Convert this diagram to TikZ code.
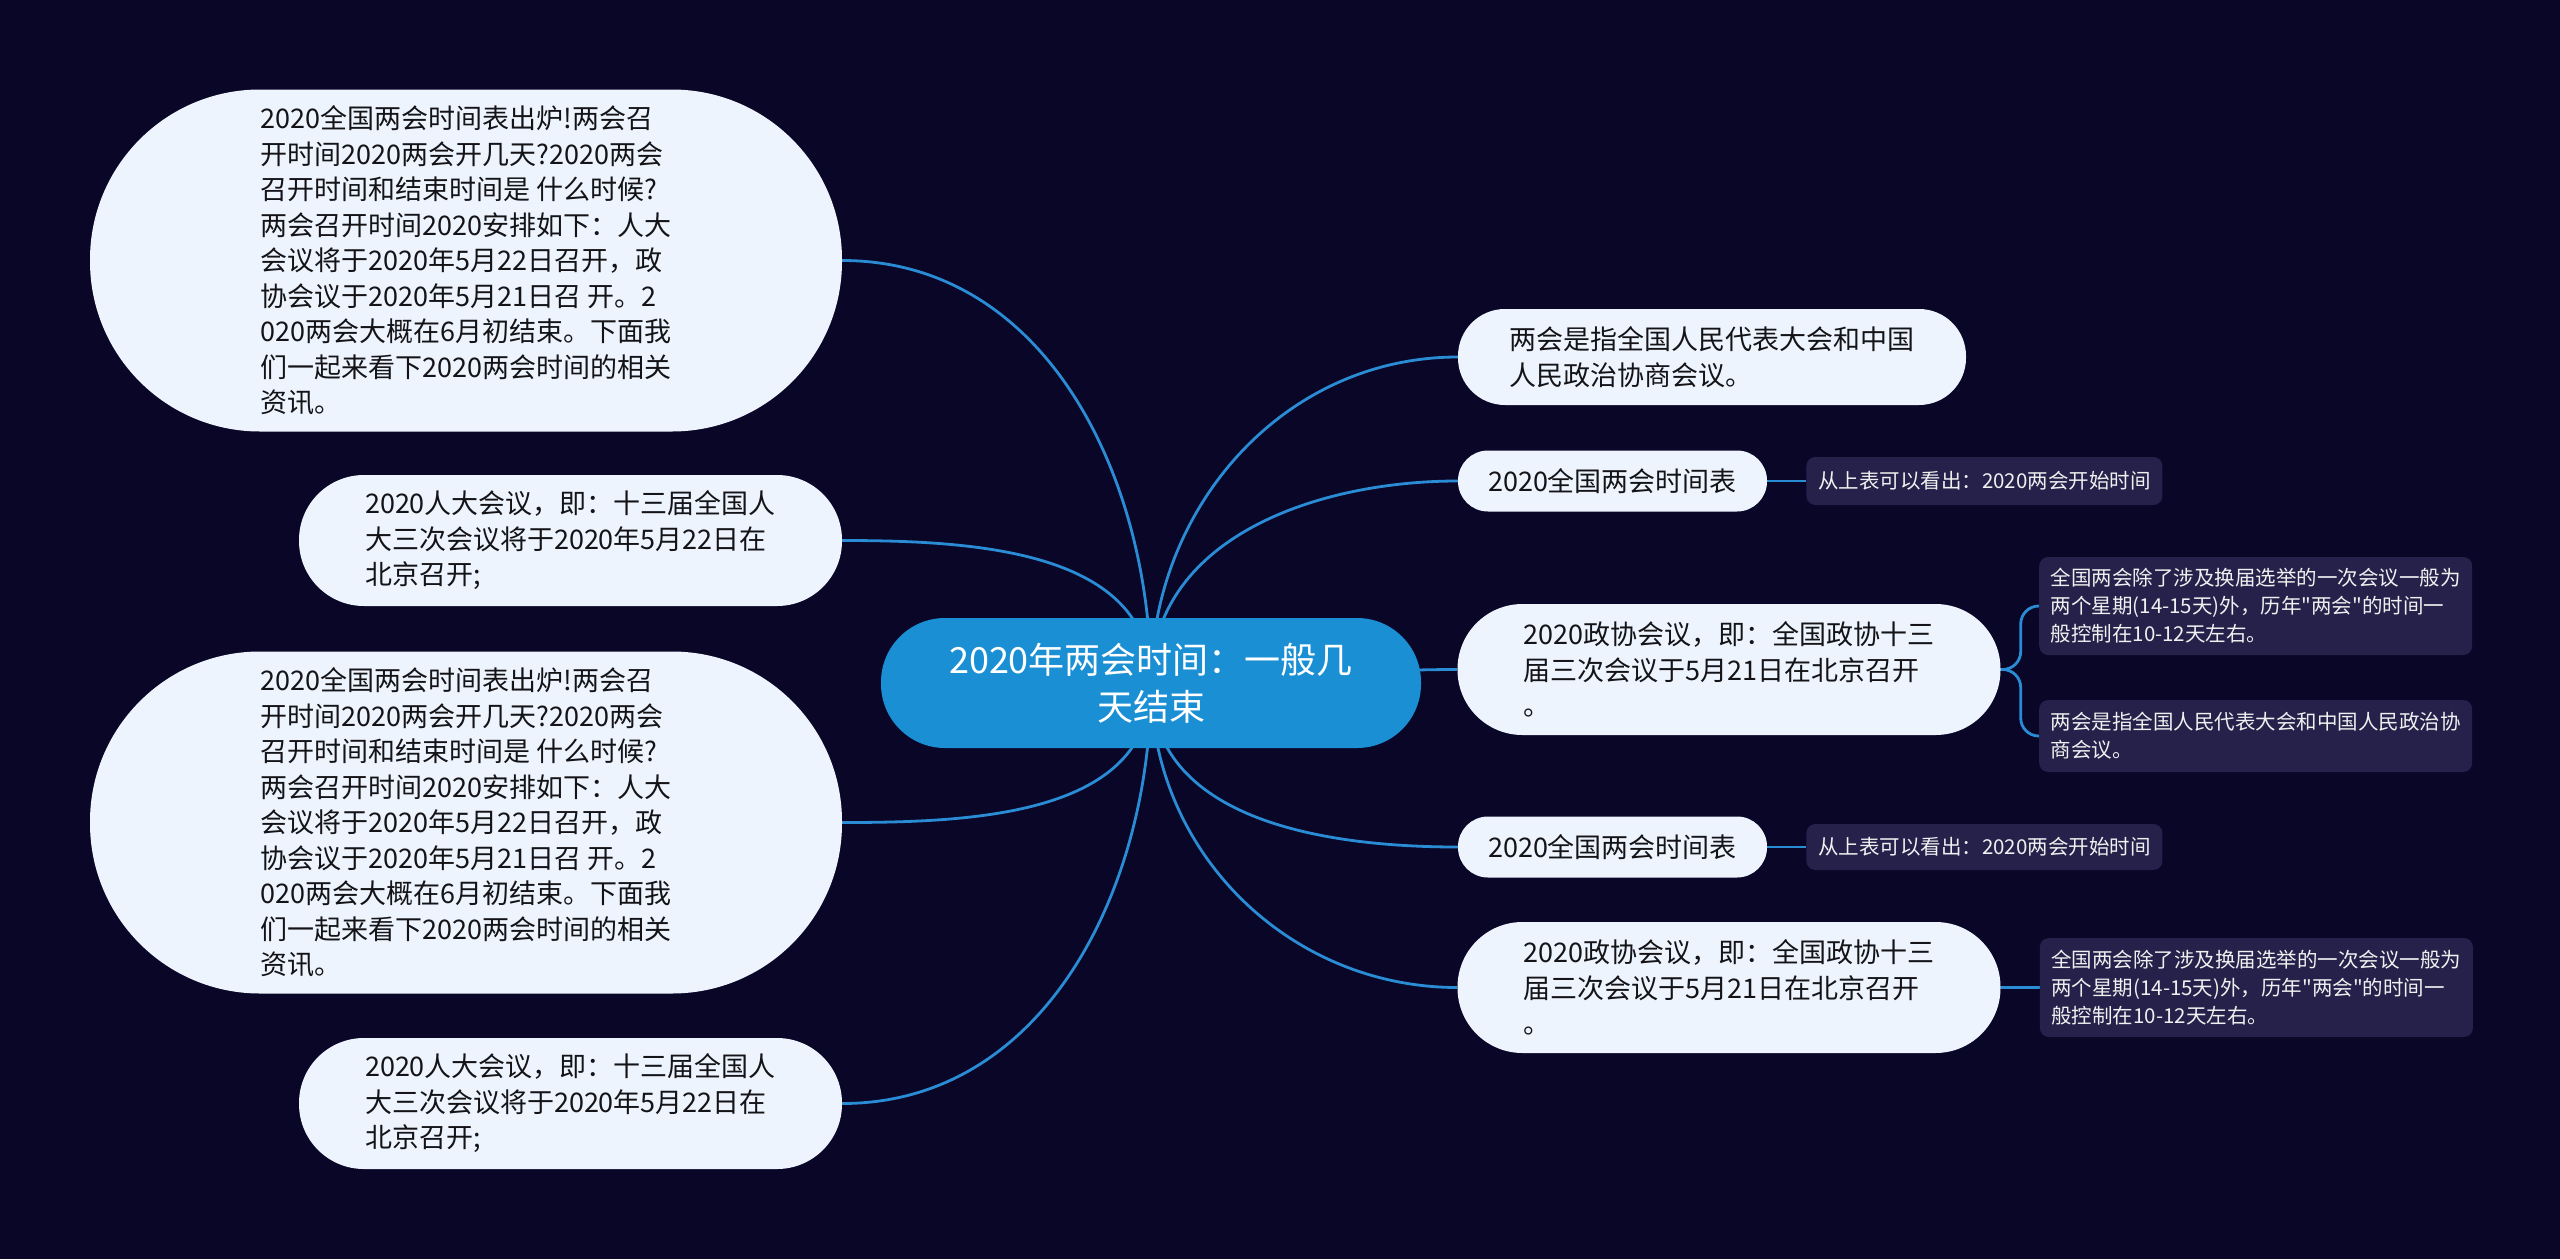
\documentclass[tikz,border=0pt]{standalone}
\usepackage{fontspec}
\newfontfamily\cjk{Noto Sans CJK SC}
\usepackage{tikz}
\usetikzlibrary{positioning}
\definecolor{bgnavy}{RGB}{10,6,40}
\definecolor{rootblue}{RGB}{26,143,212}
\definecolor{linkblue}{RGB}{42,140,212}
\definecolor{leaffill}{RGB}{238,244,253}
\definecolor{notefill}{RGB}{37,33,74}
\definecolor{inkdark}{RGB}{20,20,24}
\pgfdeclarelayer{backdrop}
\pgfdeclarelayer{wires}
\pgfsetlayers{backdrop,wires,main}
% repeated texts
\newcommand{\newstext}{2020全国两会时间表出炉!两会召\\开时间2020两会开几天?2020两会\\召开时间和结束时间是 什么时候?\\两会召开时间2020安排如下：人大\\会议将于2020年5月22日召开，政\\协会议于2020年5月21日召 开。2\\020两会大概在6月初结束。下面我\\们一起来看下2020两会时间的相关\\资讯。}
\newcommand{\npctext}{2020人大会议，即：十三届全国人\\大三次会议将于2020年5月22日在\\北京召开;}
\newcommand{\cppcctext}{2020政协会议，即：全国政协十三\\届三次会议于5月21日在北京召开\\。}
\newcommand{\spannote}{全国两会除了涉及换届选举的一次会议一般为\\两个星期(14-15天)外，历年"两会"的时间一\\般控制在10-12天左右。}
\newcommand{\startnote}{从上表可以看出：2020两会开始时间}

\begin{document}
\begin{tikzpicture}[x=1pt,y=-1pt,
      node distance=39pt,
      topic/.style={fill=rootblue,text=white,font=\cjk\fontsize{36}{47}\selectfont,align=center,
                    minimum width=540pt,minimum height=130pt,rounded corners=64pt,inner sep=0pt},
      leaf/.style={fill=leaffill,text=inkdark,font=\cjk\fontsize{27}{35.5}\selectfont,align=left,inner sep=0pt},
      bigleaf/.style={leaf,minimum width=752pt,minimum height=342pt,rounded corners=170pt},
      midleaf/.style={leaf,minimum width=543pt,minimum height=131pt,rounded corners=65pt},
      smallleaf/.style={leaf,minimum width=309pt,minimum height=61pt,rounded corners=30pt},
      notebox/.style={fill=notefill,text=white!94!black,font=\cjk\fontsize{20.5}{28}\selectfont,align=left,
                      rounded corners=9pt,inner sep=0pt},
      link/.style={draw=linkblue,line width=2.8pt}]
    \begin{pgfonlayer}{backdrop}
      \fill[bgnavy] (0,0) rectangle (2560,1259);
    \end{pgfonlayer}
    \node[topic] (root) at (1151,683) {2020年两会时间：一般几\\天结束};
    % left branch
    \node[bigleaf] (news1) at (466,260.5) {\newstext};
    \node[midleaf] (npc1) at (570.5,540.5) {\npctext};
    \node[bigleaf] (news2) at (466,822.5) {\newstext};
    \node[midleaf] (npc2) at (570.5,1103.5) {\npctext};
    % right branch
    \node[leaf,minimum width=508pt,minimum height=96pt,rounded corners=47pt] (define) at (1712,357) {两会是指全国人民代表大会和中国\\人民政治协商会议。};
    \node[smallleaf] (table1) at (1612.5,481) {2020全国两会时间表};
    \node[notebox,minimum width=356pt,minimum height=48pt,right=of table1] (start1) {\startnote};
    \node[midleaf] (cppcc1) at (1729,669.5) {\cppcctext};
    \node[notebox,minimum width=433pt,minimum height=98pt,anchor=west] (span1) at (2039,606) {\spannote};
    \node[notebox,minimum width=433pt,minimum height=72pt,anchor=west] (define2) at (2039,736) {两会是指全国人民代表大会和中国人民政治协\\商会议。};
    \node[smallleaf] (table2) at (1612.5,847) {2020全国两会时间表};
    \node[notebox,minimum width=356pt,minimum height=46pt,right=of table2] (start2) {\startnote};
    \node[midleaf] (cppcc2) at (1729,987.5) {\cppcctext};
    \node[notebox,minimum width=433pt,minimum height=99pt,right=of cppcc2] (span2) {\spannote};
    % connectors behind the boxes
    \begin{pgfonlayer}{wires}
      \draw[link] (root.center) to[out=90,in=0] (news1.east);
      \draw[link] (root.center) to[out=90,in=0] (npc1.east);
      \draw[link] (root.center) to[out=-90,in=0] (news2.east);
      \draw[link] (root.center) to[out=-90,in=0] (npc2.east);
      \draw[link] (root.center) to[out=90,in=180] (define.west);
      \draw[link] (root.center) to[out=90,in=180] (table1.west);
      \draw[link] (root.center) to[out=0,in=180] (cppcc1.west);
      \draw[link] (root.center) to[out=-90,in=180] (table2.west);
      \draw[link] (root.center) to[out=-90,in=180] (cppcc2.west);
      \draw[link] (table1.east) -- (start1.west);
      \draw[link] (table2.east) -- (start2.west);
      \draw[link] (cppcc2.east) -- (span2.west);
      \draw[link,rounded corners=18pt] (cppcc1.east) -- ++(20,0) |- (span1.west);
      \draw[link,rounded corners=18pt] (cppcc1.east) -- ++(20,0) |- (define2.west);
    \end{pgfonlayer}
  \end{tikzpicture}
\end{document}
